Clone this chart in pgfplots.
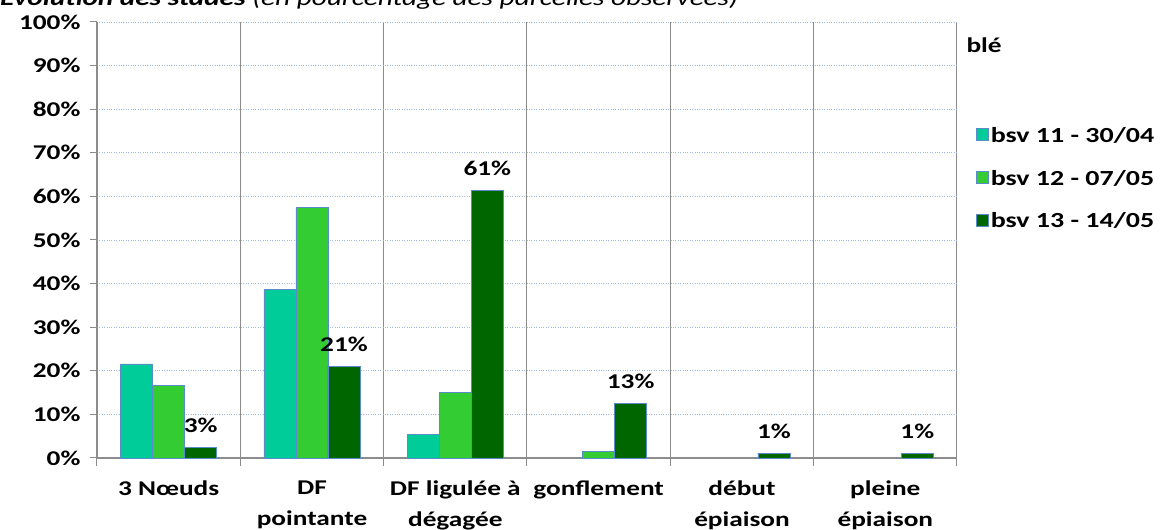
\documentclass[border=0pt]{standalone}
\usepackage{pgfplots}
\pgfplotsset{compat=1.18}
\usepackage{fontspec}
\setmainfont{Carlito}[FakeStretch=1.3]
\definecolor{cA}{HTML}{00CC99}
\definecolor{cB}{HTML}{33CC33}
\definecolor{cC}{HTML}{006600}
\definecolor{edge}{HTML}{5B8BC9}
\definecolor{gridb}{HTML}{9DBBE3}
\definecolor{axg}{HTML}{8C8C8C}
\begin{document}
\begin{tikzpicture}[x=1pt,y=1pt]
\begin{axis}[
  at={(97pt,72pt)}, anchor=south west,
  scale only axis, width=860pt, height=436pt,
  ybar=0pt, bar width=32pt,
  xmin=-0.5, xmax=5.5, ymin=0, ymax=100,
  xtick={0,1,2,3,4,5},
  xticklabels={{3 Nœuds},{DF\\pointante},{DF ligulée à\\dégagée},{gonflement},{début\\épiaison},{pleine\\épiaison}},
  xticklabel style={align=center, font=\fontsize{21}{31}\selectfont\bfseries, anchor=north, yshift=-12pt},
  major x tick style={draw=none},
  minor xtick={-0.5,0.5,1.5,2.5,3.5,4.5,5.5},
  minor x tick style={draw=axg, line width=1pt},
  minor tick length=8pt,
  xminorgrids=true,
  minor x grid style={axg, line width=1pt},
  ytick={0,10,...,100},
  yticklabel={\pgfmathprintnumber{\tick}\%},
  yticklabel style={font=\fontsize{21}{24}\selectfont\bfseries, xshift=-6pt},
  /pgf/number format/assume math mode=true,
  ymajorgrids=true,
  major y grid style={gridb, dotted, line width=0.9pt},
  major y tick style={draw=axg, line width=1pt},
  major tick length=7pt,
  tick align=outside,
  axis x line*=bottom, axis y line*=left,
  x axis line style={draw=axg, line width=1.2pt, -},
  y axis line style={draw=axg, line width=1.2pt, -},
  clip=false,
  legend style={at={(rel axis cs:1,0.768)}, anchor=north west, xshift=16pt, draw=none, fill=none,
    font=\fontsize{21.5}{24}\selectfont\bfseries, row sep=22pt, /tikz/every even column/.append style={column sep=2pt}},
  legend image code/.code={\draw[#1, draw=edge, line width=0.6pt] (0pt,-5pt) rectangle (12pt,7pt);},
  legend cell align=left,
]
\addplot[fill=cA, draw=edge, line width=0.6pt] coordinates {(0,21.6) (1,38.7) (2,5.5)};
\addplot[fill=cB, draw=edge, line width=0.6pt] coordinates {(0,16.7) (1,57.5) (2,15.1) (3,1.6)};
\addplot[fill=cC, draw=edge, line width=0.6pt,
  nodes near coords, point meta=explicit symbolic,
  every node near coord/.append style={font=\fontsize{21}{24}\selectfont\bfseries, black, yshift=11pt}]
  coordinates {(0,2.5) [3\%] (1,21.1) [21\%] (2,61.3) [61\%] (3,12.6) [13\%] (4,1.1) [1\%] (5,1.1) [1\%]};
\legend{bsv 11 - 30/04, bsv 12 - 07/05, bsv 13 - 14/05}
\node[anchor=west, font=\fontsize{21}{24}\selectfont\bfseries] at (rel axis cs:1,0.947) [xshift=6pt] {blé};
\end{axis}
\node[anchor=base west, inner sep=0pt, font=\fontsize{22.5}{24}\selectfont] at (0pt,524pt) {\textbf{\textit{Evolution des stades}} \textit{(en pourcentage des parcelles observées)}};
\pgfresetboundingbox
\path[use as bounding box] (0pt,0pt) rectangle (1163pt,530pt);
\end{tikzpicture}
\end{document}
